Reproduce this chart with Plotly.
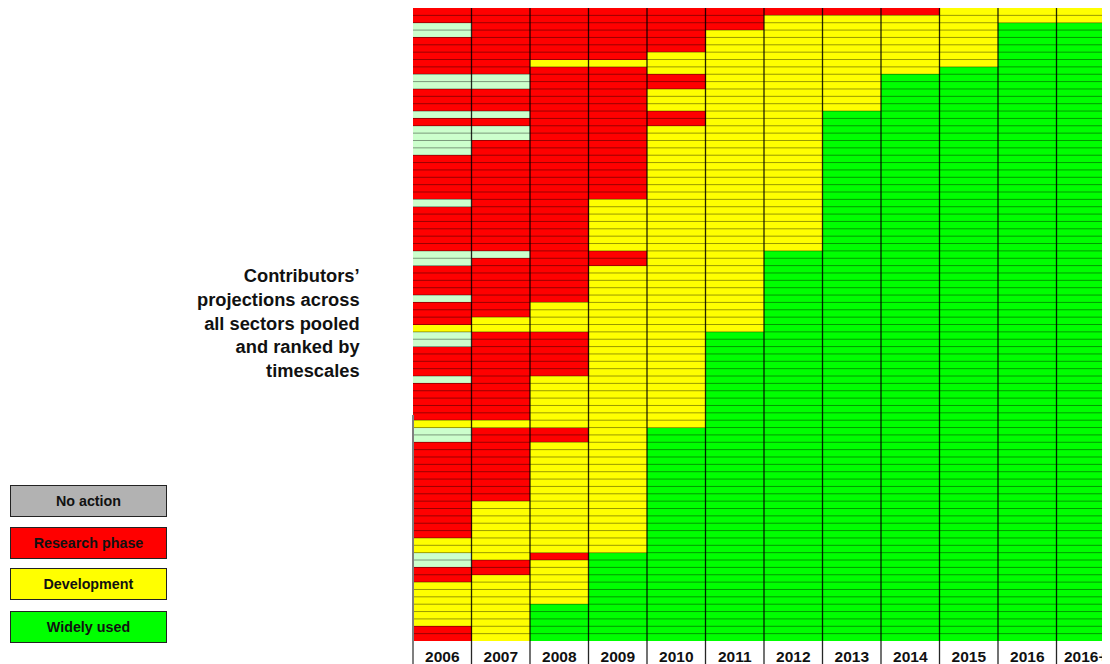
import plotly.graph_objects as go

# ---------------- data ----------------
YEARS = ["2006", "2007", "2008", "2009", "2010", "2011",
         "2012", "2013", "2014", "2015", "2016", "2016+"]

# one string per contributor projection, one letter per year
# N = No action, R = Research phase, Y = Development, G = Widely used
ROWS = [
    "RRRRRRRRRYYY", "RRRRRRYYYYYY", "NRRRRRYYYYGG", "NRRRRYYYYYGG",
    "RRRRRYYYYYGG", "RRRRRYYYYYGG", "RRRRYYYYYYGG", "RRYYYYYYYYGG",
    "RRRRYYYYYGGG", "NNRRRYYYGGGG", "NNRRRYYYGGGG", "RRRRYYYYGGGG",
    "RRRRYYYYGGGG", "RRRRYYYYGGGG", "NNRRRYYGGGGG", "RRRRRYYGGGGG",
    "NNRRYYYGGGGG", "NNRRYYYGGGGG", "NRRRYYYGGGGG", "NRRRYYYGGGGG",
    "RRRRYYYGGGGG", "RRRRYYYGGGGG", "RRRRYYYGGGGG", "RRRRYYYGGGGG",
    "RRRRYYYGGGGG", "RRRRYYYGGGGG", "NRRYYYYGGGGG", "RRRYYYYGGGGG",
    "RRRYYYYGGGGG", "RRRYYYYGGGGG", "RRRYYYYGGGGG", "RRRYYYYGGGGG",
    "RRRYYYYGGGGG", "NNRRYYGGGGGG", "NRRRYYGGGGGG", "RRRYYYGGGGGG",
    "RRRYYYGGGGGG", "RRRYYYGGGGGG", "RRRYYYGGGGGG", "NRRYYYGGGGGG",
    "RRYYYYGGGGGG", "RRYYYYGGGGGG", "RYYYYYGGGGGG", "YYYYYYGGGGGG",
    "NRRYYGGGGGGG", "NRRYYGGGGGGG", "RRRYYGGGGGGG", "RRRYYGGGGGGG",
    "RRRYYGGGGGGG", "RRRYYGGGGGGG", "NRYYYGGGGGGG", "RRYYYGGGGGGG",
    "RRYYYGGGGGGG", "RRYYYGGGGGGG", "RRYYYGGGGGGG", "RRYYYGGGGGGG",
    "YYYYYGGGGGGG", "NRRYGGGGGGGG", "NRRYGGGGGGGG", "RRYYGGGGGGGG",
    "RRYYGGGGGGGG", "RRYYGGGGGGGG", "RRYYGGGGGGGG", "RRYYGGGGGGGG",
    "RRYYGGGGGGGG", "RRYYGGGGGGGG", "RRYYGGGGGGGG", "RYYYGGGGGGGG",
    "RYYYGGGGGGGG", "RYYYGGGGGGGG", "RYYYGGGGGGGG", "RYYYGGGGGGGG",
    "YYYYGGGGGGGG", "YYYYGGGGGGGG", "NYRGGGGGGGGG", "NRYGGGGGGGGG",
    "RRYGGGGGGGGG", "RYYGGGGGGGGG", "YYYGGGGGGGGG", "YYYGGGGGGGGG",
    "YYYGGGGGGGGG", "YYGGGGGGGGGG", "YYGGGGGGGGGG", "YYGGGGGGGGGG",
    "RYGGGGGGGGGG", "RYGGGGGGGGGG",
]

PHASE_CODES = ["N", "R", "Y", "G"]
LEGEND_LABELS = ["No action", "Research phase", "Development", "Widely used"]
CELL_COLORS = ["#CCFFCC", "#FF0000", "#FFFF00", "#00FF00"]
LEGEND_COLORS = ["#B2B2B2", "#FF0000", "#FFFF00", "#00FF00"]

TITLE_LINES = ["Contributors’", "projections across", "all sectors pooled",
               "and ranked by", "timescales"]

FONT = "Liberation Sans, Arial, sans-serif"

# ---------------- figure geometry ----------------
W, H = 1110, 664
OFF = 8                      # page body margin offset
ML, MR, MT, MB = 405, 3, 0, 31
PW, PH = W - ML - MR, H - MT - MB


def px(x):   # page pixel x -> paper
    return (x - OFF - ML) / PW


def py(y):   # page pixel y -> paper
    return (H - MB - (y - OFF)) / PH


z = [[PHASE_CODES.index(c) for c in row] for row in ROWS]
n_rows, n_cols = len(ROWS), len(YEARS)

colorscale = []
k = len(CELL_COLORS)
for i, c in enumerate(CELL_COLORS):
    colorscale.append([i / k, c])
    colorscale.append([(i + 1) / k, c])

fig = go.Figure(go.Heatmap(
    z=z, x=list(range(n_cols)), y=list(range(n_rows)),
    zmin=-0.5, zmax=k - 0.5, colorscale=colorscale,
    showscale=False, hoverinfo="skip",
))

shapes = []
# row separators
for i in range(1, n_rows):
    shapes.append(dict(type="line", xref="paper", yref="y", x0=0, x1=1,
                       y0=i - 0.5, y1=i - 0.5,
                       line=dict(color="rgba(0,0,0,0.4)", width=1)))
# column separators, extending below as tick dividers
for j in range(1, n_cols):
    shapes.append(dict(type="line", xref="x", yref="paper", x0=j - 0.5, x1=j - 0.5,
                       y0=-MB / PH, y1=1,
                       line=dict(color="rgba(0,0,0,0.85)", width=1.3)))
# left grey edge line (lower part)
shapes.append(dict(type="line", xref="paper", yref="paper", x0=0, x1=0,
                   y0=-MB / PH, y1=py(415),
                   line=dict(color="#7f7f7f", width=2)))

annotations = []
annotations.append(dict(
    text="<br>".join(TITLE_LINES), xref="paper", yref="paper",
    x=px(362), y=py(323), xanchor="right", yanchor="middle",
    align="right", showarrow=False,
    font=dict(family=FONT, size=18.3, color="#111111", weight="bold"),
))

legend_centers = [500.5, 543, 584, 627]
for lab, col, cy in zip(LEGEND_LABELS, LEGEND_COLORS, legend_centers):
    annotations.append(dict(
        text=f"<b>{lab}</b>", xref="paper", yref="paper",
        x=px(88.5), y=py(cy), xanchor="center", yanchor="middle",
        showarrow=False, width=153, height=28, bgcolor=col,
        bordercolor="#222222", borderwidth=1, borderpad=1,
        font=dict(family=FONT, size=14.3, color="#111111"),
    ))

fig.update_layout(
    width=W, height=H,
    margin=dict(l=ML, r=MR, t=MT, b=MB, pad=0),
    paper_bgcolor="white", plot_bgcolor="white",
    shapes=shapes, annotations=annotations,
    xaxis=dict(range=[-0.5, n_cols - 0.5], tickmode="array",
               tickvals=list(range(n_cols)),
               ticktext=[f"<b>{y}</b>" for y in YEARS],
               ticks="", showgrid=False, zeroline=False, showline=False,
               ticklabelstandoff=4,
               tickfont=dict(family=FONT, size=15.5, color="#111111")),
    yaxis=dict(range=[n_rows - 0.5, -0.5], showticklabels=False, ticks="",
               showgrid=False, zeroline=False, showline=False),
)

fig.write_html("out.html")
